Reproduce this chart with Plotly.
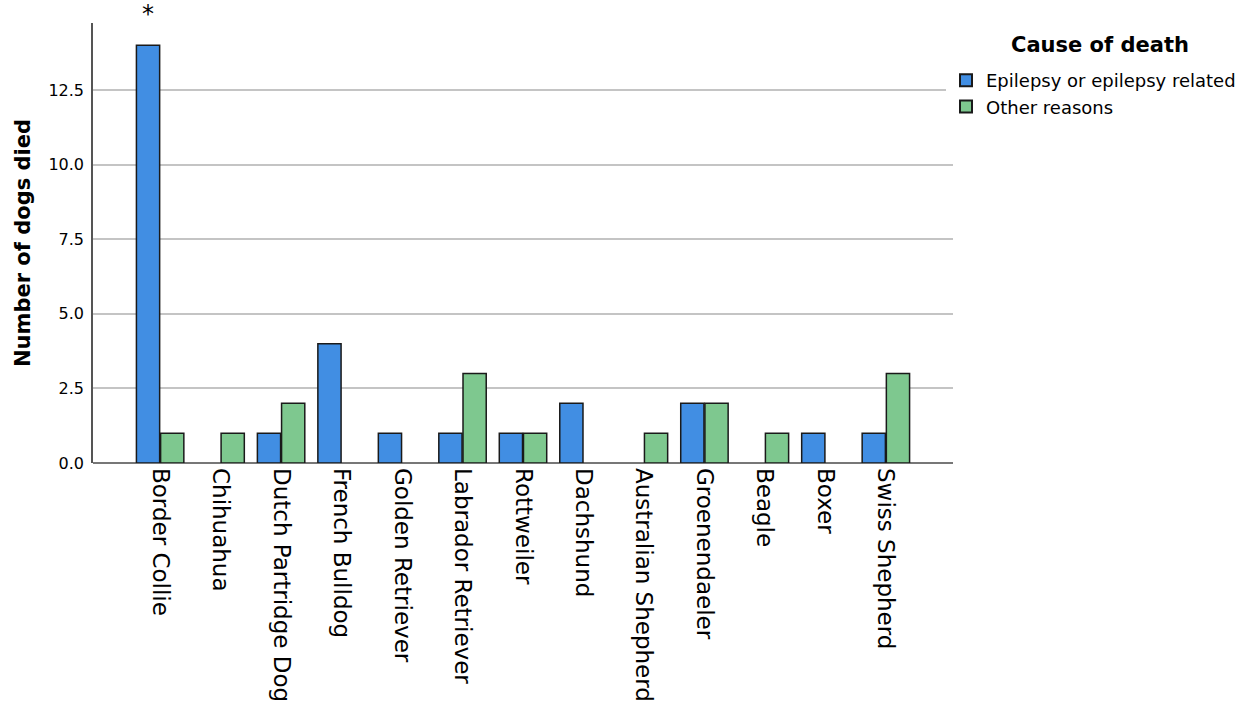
import plotly.graph_objects as go

breeds = ["Border Collie", "Chihuahua", "Dutch Partridge Dog", "French Bulldog",
          "Golden Retriever", "Labrador Retriever", "Rottweiler", "Dachshund",
          "Australian Shepherd", "Groenendaeler", "Beagle", "Boxer", "Swiss Shepherd"]
epilepsy = [14, 0, 1, 4, 1, 1, 1, 2, 0, 2, 0, 1, 1]
other = [1, 1, 2, 0, 0, 3, 1, 0, 1, 2, 1, 0, 3]
y_ticks = [0, 2.5, 5, 7.5, 10, 12.5]
y_tick_text = ["0.0", "2.5", "5.0", "7.5", "10.0", "12.5"]

FONT = "DejaVu Sans"


def outline(values):
    return [1.5 if v else 0 for v in values]


fig = go.Figure()
fig.add_trace(go.Bar(x=breeds, y=epilepsy, name="Epilepsy or epilepsy related",
                     marker=dict(color="#418ee3",
                                 line=dict(color="#1a1a1a", width=outline(epilepsy)))))
fig.add_trace(go.Bar(x=breeds, y=other, name="Other reasons",
                     marker=dict(color="#7ec88f",
                                 line=dict(color="#1a1a1a", width=outline(other)))))

fig.add_annotation(x=breeds[0], y=14, xref="x", yref="y", text="*", showarrow=False,
                   xshift=-12, yshift=15, yanchor="bottom",
                   font=dict(family=FONT, size=24, color="black"))
fig.add_annotation(x=(1100 - 93) / 860, y=1 - (45 - 23) / 440, xref="paper", yref="paper",
                   text="<b>Cause of death</b>",
                   showarrow=False, xanchor="center", yanchor="middle",
                   font=dict(family=FONT, size=21, color="black"))

fig.update_layout(
    width=1247, height=716,
    margin=dict(l=93, r=294, t=23, b=253, autoexpand=False),
    paper_bgcolor="white", plot_bgcolor="white",
    barmode="group", bargap=0.2, bargroupgap=0.04,
    font=dict(family=FONT, color="black"),
    showlegend=True,
    legend=dict(xref="container", yref="container", x=946 / 1247, y=1 - 62 / 716,
                xanchor="left", yanchor="top",
                font=dict(family=FONT, size=18),
                tracegroupgap=0, itemsizing="constant"),
    xaxis=dict(range=[-1.11, 13.11], tickangle=90, tickfont=dict(family=FONT, size=23),
               ticklabelstandoff=4, automargin=False,
               showline=False, showgrid=False, ticks="", zeroline=False),
    yaxis=dict(range=[0, 14.75], tickvals=y_ticks, ticktext=y_tick_text,
               tickfont=dict(family=FONT, size=16), ticklabelstandoff=4,
               title=dict(text="<b>Number of dogs died</b>", font=dict(family=FONT, size=21),
                          standoff=12),
               showline=True, linecolor="#555555", linewidth=1.5,
               showgrid=True, gridcolor="#c4c4c4", gridwidth=1.5,
               zeroline=True, zerolinecolor="#777777", zerolinewidth=1.5,
               ticks="", ticklen=0),
)
fig.write_html("out.html", config={"displayModeBar": False},
               post_script="document.body.style.margin='0';")
